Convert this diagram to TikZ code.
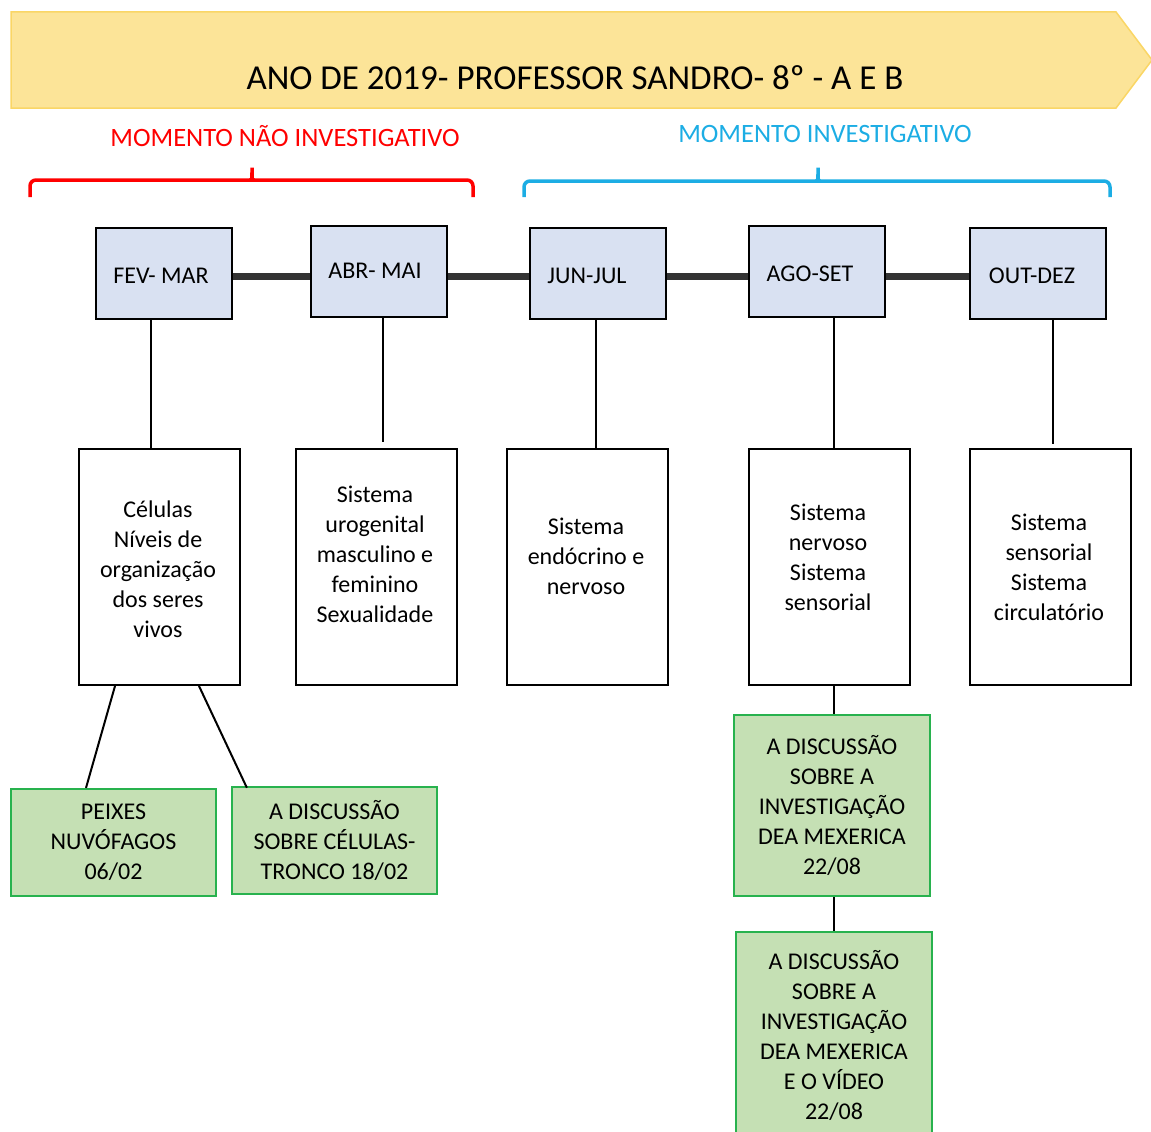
\documentclass[tikz,border=0pt]{standalone}
\usepackage{fontspec}
\setmainfont{Carlito}
\usetikzlibrary{calc}

\definecolor{bannerfill}{RGB}{252,228,152}
\definecolor{bannerline}{RGB}{250,214,102}
\definecolor{monthfill}{RGB}{217,225,242}
\definecolor{eventfill}{RGB}{197,224,180}
\definecolor{eventline}{RGB}{40,178,78}
\definecolor{phasered}{RGB}{255,0,0}
\definecolor{phaseblue}{RGB}{28,173,228}
\definecolor{spinegray}{RGB}{51,51,51}

\tikzset{
  monthbox/.style={draw=black, line width=2, fill=monthfill, minimum width=136,
    minimum height=91, inner sep=0},
  monthtext/.style={inner sep=0, font=\fontsize{24}{29}\selectfont},
  topicbox/.style={draw=black, line width=2, fill=white, minimum width=161,
    minimum height=236, inner sep=0},
  topictext/.style={align=center, inner sep=0, font=\fontsize{24}{30}\selectfont},
  eventbox/.style={draw=eventline, line width=2.2, fill=eventfill, align=center,
    inner sep=0, font=\fontsize{24}{30}\selectfont},
  spine/.style={draw=spinegray, line width=7},
  link/.style={draw=black, line width=2},
  phase/.style={line width=3.5, rounded corners=6},
  phasetext/.style={inner sep=0, font=\fontsize{26.5}{30}\selectfont}
}

\begin{document}
\begin{tikzpicture}[x=1pt,y=-1pt]
\useasboundingbox (0,0) rectangle (1151,1132);
\clip (0,0) rectangle (1151,1132);

% title banner
\fill[bannerfill, draw=bannerline, line width=1.5]
  (11,12) -- (1116,12) -- (1152,60) -- (1116,108) -- (11,108) -- cycle;
\node[inner sep=0, font=\fontsize{35}{40}\selectfont] (title) at (575,78)
  {ANO DE 2019- PROFESSOR SANDRO- 8º - A E B};

% phase labels and braces
\node[phasetext, text=phasered] (phase1) at (285,136) {MOMENTO NÃO INVESTIGATIVO};
\node[phasetext, text=phaseblue] (phase2) at (825,134) {MOMENTO INVESTIGATIVO};

\draw[phase, phasered] (30,197) -- (30,180) -- (248,180)
  .. controls (252,180) .. (252,164) .. controls (252,180) .. (256,180)
  -- (473,180) -- (473,197);
\draw[phase, phaseblue] (524,197) -- (524,181) -- (814,181)
  .. controls (818,181) .. (818,164) .. controls (818,181) .. (822,181)
  -- (1110,181) -- (1110,197);

% months
\node[monthbox] (m1) at (164,273.5) {};
\node[monthbox] (m2) at (379,271.5) {};
\node[monthbox] (m3) at (598,273.5) {};
\node[monthbox] (m4) at (817,271.5) {};
\node[monthbox] (m5) at (1038,273.5) {};

\node[monthtext] (l1) at (161,275.5) {FEV- MAR};
\node[monthtext] (l2) at (375,271) {ABR- MAI};
\node[monthtext] (l3) at (587,275.5) {JUN-JUL};
\node[monthtext] (l4) at (810,273.5) {AGO-SET};
\node[monthtext] (l5) at (1032,275.5) {OUT-DEZ};

\coordinate (spineY) at (0,276);
\draw[spine] (m1.east |- spineY) -- (m2.west |- spineY);
\draw[spine] (m2.east |- spineY) -- (m3.west |- spineY);
\draw[spine] (m3.east |- spineY) -- (m4.west |- spineY);
\draw[spine] (m4.east |- spineY) -- (m5.west |- spineY);

% topics
\node[topicbox] (b1) at (159.5,567) {};
\node[topicbox] (b2) at (376.5,567) {};
\node[topicbox] (b3) at (587,567) {};
\node[topicbox] (b4) at (829.5,567) {};
\node[topicbox] (b5) at (1050.5,567) {};

\node[topictext] (t1) at (158,569) {Células\\Níveis de\\organização\\dos seres\\vivos};
\node[topictext] (t2) at (375,554) {Sistema\\urogenital\\masculino e\\feminino\\Sexualidade};
\node[topictext] (t3) at (586,556) {Sistema\\endócrino e\\nervoso};
\node[topictext] (t4) at (828,557) {Sistema\\nervoso\\Sistema\\sensorial};
\node[topictext] (t5) at (1049,567) {Sistema\\sensorial\\Sistema\\circulatório};

\draw[link] (m1.south -| 151,0) -- (b1.north -| 151,0);
\draw[link, shorten >=6] (m2.south -| 383,0) -- (b2.north -| 383,0);
\draw[link] (m3.south -| 596,0) -- (b3.north -| 596,0);
\draw[link] (m4.south -| 834,0) -- (b4.north -| 834,0);
\draw[link, shorten >=4] (m5.south -| 1053,0) -- (b5.north -| 1053,0);

% classroom activities
\node[eventbox, minimum width=205, minimum height=107] (g1) at (113.5,842.5)
  {PEIXES\\NUVÓFAGOS\\06/02};
\node[eventbox, minimum width=205, minimum height=107] (g2) at (334.5,840.5)
  {A DISCUSSÃO\\SOBRE CÉLULAS-\\TRONCO 18/02};
\node[eventbox, minimum width=196, minimum height=181] (g3) at (832,805.5)
  {A DISCUSSÃO\\SOBRE A\\INVESTIGAÇÃO\\DEA MEXERICA\\22/08};
\node[eventbox, minimum width=196, minimum height=206] (g4) at (834,1035)
  {A DISCUSSÃO\\SOBRE A\\INVESTIGAÇÃO\\DEA MEXERICA\\E O VÍDEO\\22/08};

\draw[link] (b1.south -| 115,0) -- (g1.north -| 86,0);
\draw[link, shorten >=-2] (b1.south -| 199,0) -- (g2.north -| 246,0);
\draw[link] (b4.south -| 834,0) -- (g3.north -| 834,0);
\draw[link] (g3.south -| 834,0) -- (g4.north -| 834,0);
\end{tikzpicture}
\end{document}
